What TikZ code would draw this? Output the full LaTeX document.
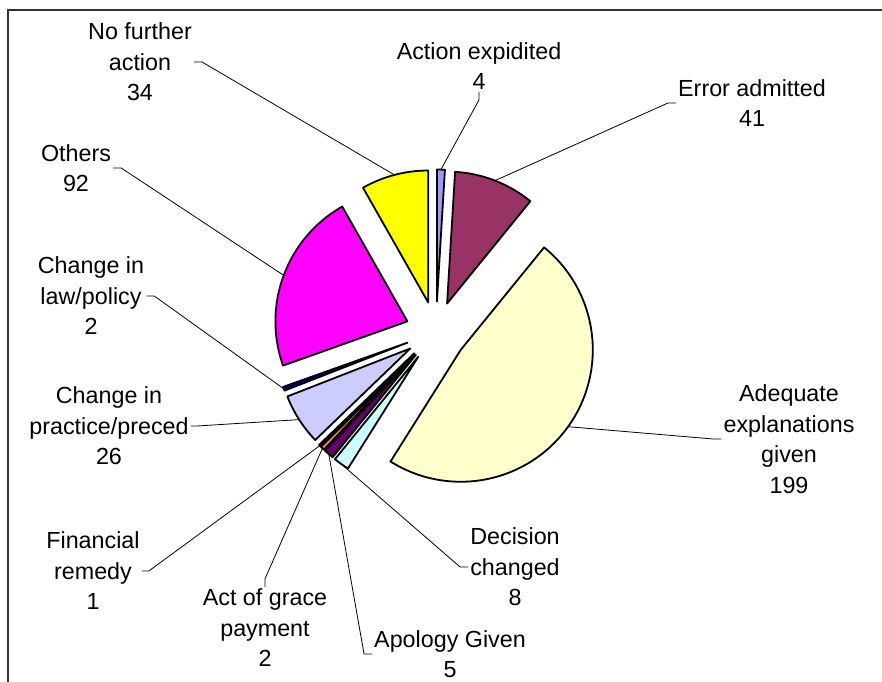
\documentclass[tikz,border=0pt]{standalone}
\usepackage{fontspec}
\setmainfont{Liberation Sans}
\usetikzlibrary{calc}

\definecolor{sliceAct}{HTML}{9999FF}
\definecolor{sliceErr}{HTML}{993366}
\definecolor{sliceAdq}{HTML}{FFFFCC}
\definecolor{sliceDec}{HTML}{CCFFFF}
\definecolor{sliceApo}{HTML}{660066}
\definecolor{sliceGrace}{HTML}{FF8080}
\definecolor{sliceFin}{HTML}{0066CC}
\definecolor{slicePrac}{HTML}{CCCCFF}
\definecolor{sliceLaw}{HTML}{000080}
\definecolor{sliceOth}{HTML}{FF00FF}
\definecolor{sliceNFA}{HTML}{FFFF00}

\begin{document}
\begin{tikzpicture}[x=1pt, y=1pt,
    slice/.style={draw=black, line width=1.8pt, line join=round},
    leader/.style={draw=black, line width=0.8pt},
    lbl/.style={align=center, inner sep=2pt, font=\fontsize{23.3}{30.5}\selectfont}]
    \useasboundingbox (0,0) rectangle (882,681);
    \clip (0,0) rectangle (882,681);

    % Frame
    \draw[line width=2pt, black!80] (8,-10) |- (900,671);

    % Pie centre
    \coordinate (C) at (436,349);

    % Slices, clockwise from 12 o'clock (total 414)
    \def\angA{90}
    \foreach \val/\col [count=\i] in {4/sliceAct, 41/sliceErr, 199/sliceAdq, 8/sliceDec,
        5/sliceApo, 2/sliceGrace, 1/sliceFin, 26/slicePrac, 2/sliceLaw, 92/sliceOth, 34/sliceNFA} {
        \pgfmathsetmacro\angB{\angA-\val/414*360}
        \pgfmathsetmacro\angM{(\angA+\angB)/2}
        \path (C) ++(\angM:30.5pt) coordinate (apex\i);
        \filldraw[slice, fill=\col] (apex\i) -- ++(\angA:132pt)
            arc[start angle=\angA, end angle=\angB, radius=132pt] -- cycle;
        \coordinate (tip\i) at ($(apex\i)+(\angM:132pt)$);
        \xdef\angA{\angB}
    }

    % Labels
    \node[lbl] (lAct) at (479,615) {Action expidited\\4};
    \node[lbl] (lErr) at (752,578) {Error admitted\\41};
    \node[lbl] (lAdq) at (789,242) {Adequate\\explanations\\given\\199};
    \node[lbl] (lDec) at (515,114) {Decision\\changed\\8};
    \node[lbl] (lApo) at (450,27) {Apology Given\\5};
    \node[lbl] (lGrace) at (265,53) {Act of grace\\payment\\2};
    \node[lbl] (lFin) at (93,110) {Financial\\remedy\\1};
    \node[lbl] (lPrac) at (109,255) {Change in\\practice/preced\\26};
    \node[lbl] (lLaw) at (91,385) {Change in\\law/policy\\2};
    \node[lbl] (lOth) at (76,513) {Others\\92};
    \node[lbl] (lNFA) at (140,619) {No further\\action\\34};

    % Leader lines
    \draw[leader] (lAct.south) -- ++(0,-8) -- (tip1);
    \draw[leader] (lErr.west) -- ++(-8,0) -- (tip2);
    \draw[leader] (lAdq.west) -- ++(-8,0) -- (tip3);
    \draw[leader] (lDec.west) -- ++(-8,0) -- (tip4);
    \draw[leader] (lApo.west) -- ++(-8,0) -- (tip5);
    \draw[leader] (lGrace.north) -- ++(0,8) -- (tip6);
    \draw[leader] (lFin.east) -- ++(7,0) -- (tip7);
    \draw[leader] (lPrac.east) -- ++(6,0) -- (tip8);
    \draw[leader] (lLaw.east) -- ++(8,0) -- (tip9);
    \draw[leader] (lOth.east) -- ++(8,0) -- (tip10);
    \draw[leader] (lNFA.east) -- ++(8,0) -- (tip11);

\end{tikzpicture}
\end{document}
